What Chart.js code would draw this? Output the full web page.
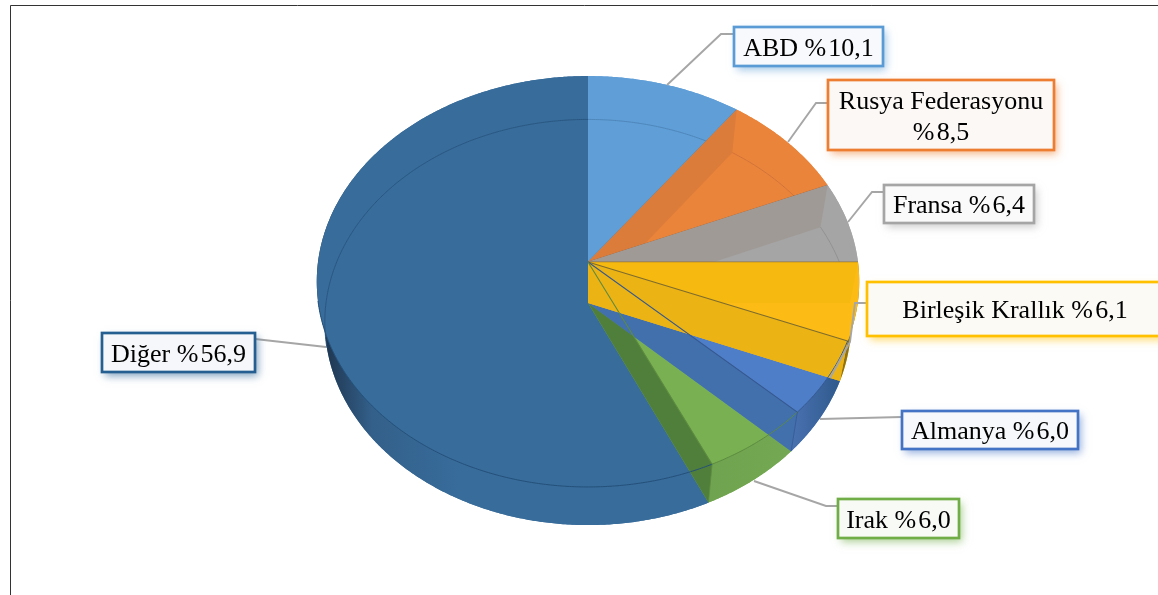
<!DOCTYPE html>
<html><head><meta charset="utf-8">
<style>html,body{margin:0;padding:0;background:#fff;overflow:hidden}canvas{display:block}</style>
<script src="https://cdn.jsdelivr.net/npm/chart.js@4"></script>
</head><body>
<canvas id="c" width="1158" height="595"></canvas>
<script>
const categories = ['ABD','Rusya Federasyonu','Fransa','Birleşik Krallık','Almanya','Irak','Diğer'];
const shares = [10.1,8.5,6.4,6.1,6.0,6.0,56.9];
const sliceColors = ['#5f9ed7','#eb843b','#a5a5a5','#fdbc15','#4f7ec8','#79b152','#386c9b'];
const wallColors  = ['#5f9ed7','#dc7c3a','#a09a96','#ecb314','#4270ad','#507f3b','#386c9b'];
const lineColors  = ['#4a80b3','#c9703a','#8c8c8c','#7d6c2e','#35588f','#5d8a40','#28557f'];
const borderColors= ['#5b9bd5','#ed7d31','#a5a5a5','#ffc000','#4472c4','#70ad47','#255e91'];
const boxFills    = ['#f7f9fc','#fbf8f5','#fafafa','#fbfaf5','#f6f8fb','#f8faf6','#f5f7fa'];
const boxes = [[734,27,149,39],[828,80,226,70],[884,185,150,38],[867,282,296,54],[902,411,176,38],[838,499,121,39],[102,333,153,39]];
const wrapped = [false,true,false,false,false,false,false];
const leaders = [
  [[667,85],[721,34],[734,34]],
  [[788,142],[816,103],[828,103]],
  [[848,222],[872,192],[884,192]],
  [[867,303],[855,303],[850,342],[830,378]],
  [[820,419],[902,417]],
  [[754,481],[826,506],[838,506]],
  [[255,339],[326,347]]
];
const upperDisc = {cx:588,cy:262,rx:270,ry:203.6};
const lowerDisc = {cx:588,cy:303,rx:262,ry:201};
const tilt = 0.0949;
const paintOrder = [6,0,1,2,5,4,3];
const frontSlices = [3,4,5,6];

function proj(d,a){const u=Math.cos(a),v=Math.sin(a),w=1-tilt*v;return [d.cx+d.rx*u/w,d.cy+d.ry*v/w];}
function trace(ctx,d,a0,a1,first){
  const n=Math.max(2,Math.ceil(Math.abs(a1-a0)/0.008));
  for(let i=0;i<=n;i++){const p=proj(d,a0+(a1-a0)*i/n);if(i===0&&first)ctx.moveTo(p[0],p[1]);else ctx.lineTo(p[0],p[1]);}
}
function wedge(ctx,d,a0,a1,fill){ctx.beginPath();ctx.moveTo(d.cx,d.cy);trace(ctx,d,a0,a1,false);ctx.closePath();ctx.fillStyle=fill;ctx.fill();}
function band(ctx,a0,a1,fill){ctx.beginPath();trace(ctx,upperDisc,a0,a1,true);trace(ctx,lowerDisc,a1,a0,false);ctx.closePath();ctx.fillStyle=fill;ctx.fill();}
function wall(ctx,a,fill){const p=proj(upperDisc,a),q=proj(lowerDisc,a);ctx.beginPath();ctx.moveTo(upperDisc.cx,upperDisc.cy);ctx.lineTo(p[0],p[1]);ctx.lineTo(q[0],q[1]);ctx.lineTo(lowerDisc.cx,lowerDisc.cy);ctx.closePath();ctx.fillStyle=fill;ctx.fill();}
function arcLine(ctx,d,a0,a1,col,lw){ctx.beginPath();trace(ctx,d,a0,a1,true);ctx.strokeStyle=col;ctx.lineWidth=lw||0.9;ctx.stroke();}
function spoke(ctx,d,a,col,lw){const p=proj(d,a);ctx.beginPath();ctx.moveTo(d.cx,d.cy);ctx.lineTo(p[0],p[1]);ctx.strokeStyle=col;ctx.lineWidth=lw||1;ctx.stroke();}
function hGrad(ctx,x0,x1,stops){const g=ctx.createLinearGradient(x0,0,x1,0);stops.forEach(s=>g.addColorStop(s[0],s[1]));return g;}

const pie3d = {
  id:'pie3d',
  beforeDatasetsDraw(chart){
    const ctx=chart.ctx, arcs=chart.getDatasetMeta(0).data;
    ctx.save();
    ctx.fillStyle='#fff';ctx.fillRect(0,0,chart.width,chart.height);
    ctx.strokeStyle='#333';ctx.lineWidth=1;ctx.beginPath();ctx.moveTo(10.5,595);ctx.lineTo(10.5,5.5);ctx.lineTo(1158,5.5);ctx.stroke();
    ctx.lineJoin='round';
    const bandFills={
      3:'#8f7314',
      4:hGrad(ctx,790,840,[[0,'#4a72b2'],[1,'#2f5a8c']]),
      5:hGrad(ctx,708,795,[[0,'#6fa34f'],[1,'#75a852']]),
      6:hGrad(ctx,325,460,[[0,'#1f3650'],[0.35,'#33608a'],[1,'#386c9b']])
    };
    paintOrder.forEach(i=>{
      const a0=arcs[i].startAngle,a1=arcs[i].endAngle,col=sliceColors[i];
      wedge(ctx,lowerDisc,a0,a1,col);
      if(frontSlices.includes(i)) band(ctx,a0,a1,bandFills[i]); else band(ctx,a0,a1,col);
      wedge(ctx,upperDisc,a0,a1,col);
      if(i===1||i===2) wall(ctx,a0,wallColors[i]);
      if(i===3){ wall(ctx,a0,'#f6b90f'); wall(ctx,a1,wallColors[i]); }
      if(i===4||i===5) wall(ctx,a1,wallColors[i]);
      if(i<3) arcLine(ctx,lowerDisc,a0,a1,lineColors[i],0.8);
      if(i===6) arcLine(ctx,lowerDisc,Math.PI*0.93,a1,'#28557f',0.9);
      if(i<3){ spoke(ctx,upperDisc,a1,'rgba(110,100,90,.55)',1); }
    });
    spoke(ctx,upperDisc,arcs[3].startAngle,'rgba(170,130,40,.6)',1.2);
    spoke(ctx,upperDisc,arcs[3].endAngle,lineColors[3],1.1);
    spoke(ctx,upperDisc,arcs[4].endAngle,lineColors[4],1.1);
    spoke(ctx,upperDisc,arcs[5].endAngle,lineColors[5],1.1);
    arcLine(ctx,upperDisc,arcs[4].startAngle,arcs[4].endAngle,lineColors[4],1);
    arcLine(ctx,upperDisc,arcs[5].startAngle,arcs[5].endAngle,lineColors[5],1);
    arcLine(ctx,upperDisc,arcs[6].startAngle,Math.PI*0.94,'#24507a',1);
    [4,5].forEach(i=>{const a=arcs[i].endAngle,p=proj(upperDisc,a),q=proj(lowerDisc,a);ctx.beginPath();ctx.moveTo(p[0],p[1]);ctx.lineTo(q[0],q[1]);ctx.strokeStyle=lineColors[i];ctx.lineWidth=0.8;ctx.stroke();});
    ctx.restore();
    return false;
  },
  afterDraw(chart){
    const ctx=chart.ctx;
    ctx.save();
    leaders.forEach(pts=>{
      ctx.beginPath();pts.forEach((p,j)=>j?ctx.lineTo(p[0],p[1]):ctx.moveTo(p[0],p[1]));
      ctx.strokeStyle='#a6a6a6';ctx.lineWidth=1.9;ctx.stroke();
    });
    categories.forEach((name,i)=>{
      const [x,y,w,h]=boxes[i];
      ctx.save();
      ctx.shadowColor=borderColors[i]+'90';ctx.shadowBlur=8;ctx.shadowOffsetX=3;ctx.shadowOffsetY=4;
      ctx.fillStyle=boxFills[i];ctx.fillRect(x,y,w,h);
      ctx.restore();
      ctx.strokeStyle=borderColors[i];ctx.lineWidth=2.7;ctx.strokeRect(x,y,w,h);
      const val='%\u200A'+shares[i].toFixed(1).replace('.',',');
      ctx.fillStyle='#000';ctx.font='26px "Liberation Serif"';ctx.textAlign='center';ctx.textBaseline='alphabetic';
      const cx=x+w/2,cy=y+h/2;
      if(wrapped[i]){ctx.fillText(name,cx,cy-6);ctx.fillText(val,cx,cy+25);}
      else ctx.fillText(name+' '+val,cx,cy+9);
    });
    ctx.restore();
  }
};

new Chart(document.getElementById('c'),{
  type:'pie',
  data:{labels:categories,datasets:[{data:shares,backgroundColor:sliceColors,borderWidth:0}]},
  options:{responsive:false,animation:false,events:[],plugins:{legend:{display:false},tooltip:{enabled:false}}},
  plugins:[pie3d]
});
</script>
</body></html>
